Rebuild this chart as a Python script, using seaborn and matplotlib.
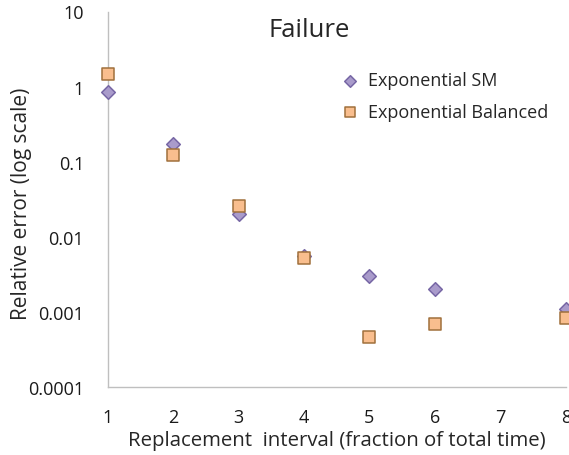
import numpy as np
import pandas as pd
import matplotlib
matplotlib.use("Agg")
import matplotlib.pyplot as plt
import seaborn as sns

# Replacement interval values and relative errors for each method
intervals = [1, 2, 3, 4, 5, 6, 8]
sm_error = [0.85, 0.17, 0.020, 0.0056, 0.0030, 0.0020, 0.0011]
balanced_error = [1.45, 0.123, 0.0255, 0.0053, 0.00047, 0.00070, 0.00082]
series_names = ["Exponential SM", "Exponential Balanced"]
y_ticks = [0.0001, 0.001, 0.01, 0.1, 1, 10]
y_tick_labels = ["0.0001", "0.001", "0.01", "0.1", "1", "10"]
x_ticks = [1, 2, 3, 4, 5, 6, 7, 8]

df = pd.DataFrame({
    "interval": intervals * 2,
    "error": sm_error + balanced_error,
    "method": [series_names[0]] * len(intervals) + [series_names[1]] * len(intervals),
})

sns.set_style("white")
plt.rcParams["font.family"] = ["Open Sans", "DejaVu Sans"]

fig = plt.figure(figsize=(5.69, 4.56), dpi=100)
ax = fig.add_axes([107.7 / 569, 68 / 456, (565.7 - 107.7) / 569, (388 - 12.5) / 456])

grey = "#BFBFBF"
palette = {series_names[0]: "#A99BCB", series_names[1]: "#F9BE8E"}
markers = {series_names[0]: "D", series_names[1]: "s"}

for name, edge, size in [(series_names[0], "#7767A5", 48), (series_names[1], "#A0703C", 68)]:
    sub = df[df["method"] == name]
    sns.scatterplot(data=sub, x="interval", y="error", color=palette[name],
                    marker=markers[name], s=size, edgecolor=edge, linewidth=1.1,
                    ax=ax, label=name, zorder=3, clip_on=False)

ax.set_yscale("log")
ax.set_ylim(1e-4, 10)
ax.set_xlim(1, 8)
ax.set_yticks(y_ticks)
ax.set_yticklabels(y_tick_labels)
ax.minorticks_off()
ax.set_xticks(x_ticks)
ax.set_xticklabels([str(t) for t in x_ticks])

for side in ["top", "right"]:
    ax.spines[side].set_visible(False)
for side in ["left", "bottom"]:
    ax.spines[side].set_color(grey)
    ax.spines[side].set_linewidth(1.0)

ax.tick_params(axis="both", which="major", direction="out", length=6,
               width=1.0, color=grey, labelsize=13, labelcolor="#1a1a1a")
ax.tick_params(axis="y", pad=11)
ax.tick_params(axis="x", pad=9)

ax.set_xlabel("Replacement  interval (fraction of total time)", fontsize=14.7, labelpad=3)
ax.set_ylabel("Relative error (log scale)", fontsize=15)
ax.yaxis.set_label_coords(-0.165, 0.49)
ax.set_title("Failure", fontsize=18.5, pad=0, y=0.935, x=0.44)

leg = ax.legend(loc="upper left", bbox_to_anchor=(0.474, 0.86), frameon=False,
                fontsize=13, handletextpad=0.0, labelspacing=0.75,
                markerscale=0.85, borderaxespad=0)

fig.savefig("out.png", dpi=100)
